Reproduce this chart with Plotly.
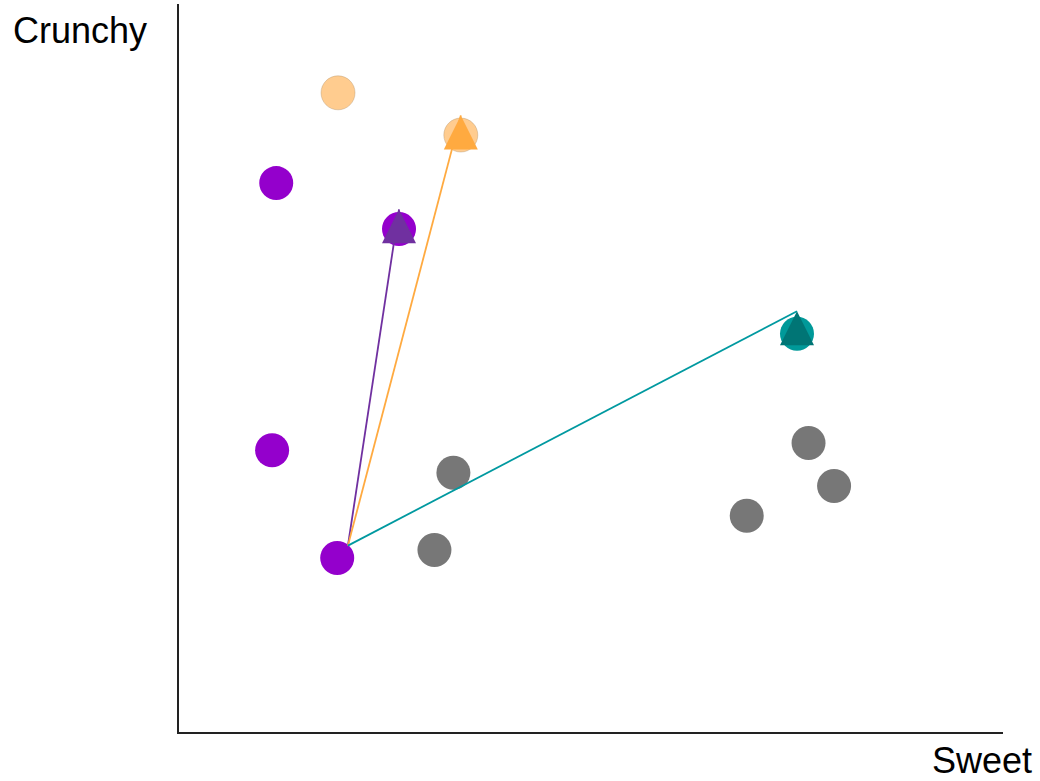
import plotly.graph_objects as go

# Product positions on the two taste dimensions
peach_x = [1.93, 3.42]
peach_y = [8.78, 8.20]

purple_x = [1.18, 2.67, 1.13, 1.92]
purple_y = [7.54, 6.91, 3.87, 2.39]

gray_x = [3.33, 3.10, 6.89, 7.64, 7.95]
gray_y = [3.56, 2.50, 2.97, 3.97, 3.38]

teal_x = [7.50]
teal_y = [5.47]

# Shared origin of the three moves and the point of each arrow
origin_x, origin_y = 2.05, 2.56
arrow_names = ["purple", "orange", "teal"]
arrow_tip_x = [2.67, 3.42, 7.50]
arrow_tip_y = [7.18, 8.47, 5.78]
arrow_line_colors = ["#7030A0", "#FFAA40", "#0099A0"]
arrow_head_colors = ["#7030A0", "#FFAA40", "#007575"]

fig = go.Figure()

circle = dict(size=34)

fig.add_trace(go.Scatter(x=peach_x, y=peach_y, mode="markers",
                         marker=dict(color="#FFCC8F", line=dict(color="rgba(170,140,100,0.6)", width=0.6), **circle)))
fig.add_trace(go.Scatter(x=purple_x, y=purple_y, mode="markers",
                         marker=dict(color="#9400CC", line=dict(width=0), **circle)))
fig.add_trace(go.Scatter(x=gray_x, y=gray_y, mode="markers",
                         marker=dict(color="#777777", line=dict(width=0), **circle)))
fig.add_trace(go.Scatter(x=teal_x, y=teal_y, mode="markers",
                         marker=dict(color="#009999", line=dict(width=0), **circle)))

# Each arrow: a shaft from the origin and an upright head whose point sits on the tip
for name, tx, ty, lc, hc in zip(arrow_names, arrow_tip_x, arrow_tip_y,
                                arrow_line_colors, arrow_head_colors):
    fig.add_trace(go.Scatter(x=[origin_x, tx], y=[origin_y, ty], mode="lines",
                             line=dict(color=lc, width=1.8), name=name))
    fig.add_trace(go.Scatter(x=[tx], y=[ty], mode="markers", name=name,
                             marker=dict(symbol="arrow-up", size=34, color=hc,
                                         line=dict(width=0))))

fig.update_layout(
    width=1040, height=781,
    margin=dict(l=179, r=37, t=4, b=49),
    paper_bgcolor="white", plot_bgcolor="white",
    showlegend=False,
    font=dict(family="Liberation Sans, Arial, sans-serif", color="black"),
    xaxis=dict(range=[0, 10], showgrid=False, zeroline=False, showticklabels=False,
               ticks="", showline=True, linecolor="#222222", linewidth=2),
    yaxis=dict(range=[0, 10], showgrid=False, zeroline=False, showticklabels=False,
               ticks="", showline=True, linecolor="#222222", linewidth=2),
    annotations=[
        dict(text="Crunchy", xref="paper", yref="paper", x=-0.037, y=0.964,
             xanchor="right", yanchor="middle", showarrow=False,
             font=dict(size=36, color="black")),
        dict(text="Sweet", xref="paper", yref="paper", x=1.038, y=-0.039,
             xanchor="right", yanchor="middle", showarrow=False,
             font=dict(size=36, color="black")),
    ],
)

fig.write_html("out.html")
